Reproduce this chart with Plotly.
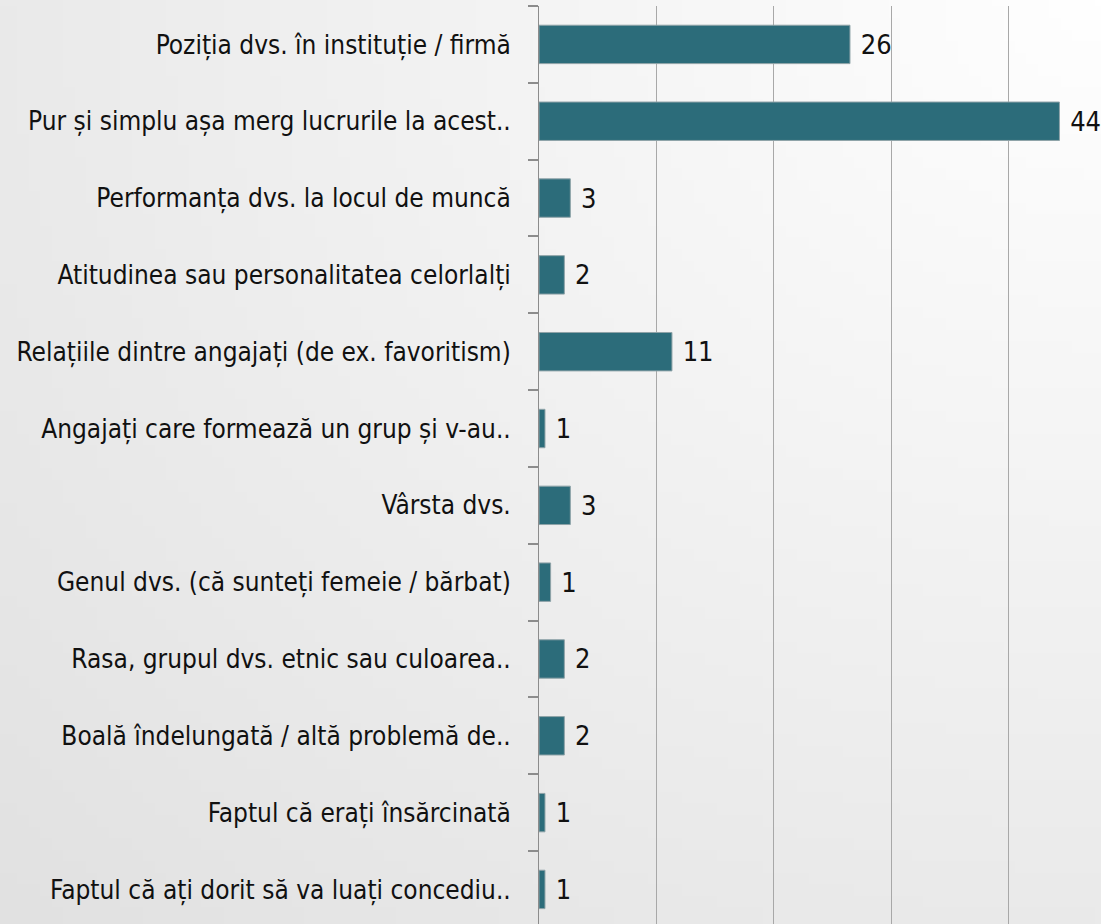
import base64
import struct
import zlib

import plotly.graph_objects as go

# ---------------- data ----------------
categories = [
    "Poziția dvs. în instituție / firmă",
    "Pur și simplu așa merg lucrurile la acest..",
    "Performanța dvs. la locul de muncă",
    "Atitudinea sau personalitatea celorlalți",
    "Relațiile dintre angajați (de ex. favoritism)",
    "Angajați care formează un grup și v-au..",
    "Vârsta dvs.",
    "Genul dvs. (că sunteți femeie / bărbat)",
    "Rasa, grupul dvs. etnic sau culoarea..",
    "Boală îndelungată / altă problemă de..",
    "Faptul că erați însărcinată",
    "Faptul că ați dorit să va luați concediu..",
]
values = [26.5, 44.35, 2.67, 2.16, 11.33, 0.51, 2.67, 0.99, 2.16, 2.16, 0.51, 0.51]
value_labels = ["26", "44", "3", "2", "11", "1", "3", "1", "2", "2", "1", "1"]
x_ticks = [0, 10, 20, 30, 40]

# ---------------- background gradient (styling only) ----------------
def gradient_png(w=96, h=80):
    rows = b""
    for j in range(h):
        row = b"\x00"
        for i in range(w):
            dx = 1.0 - i / (w - 1)
            dy = j / (h - 1)
            d = (dx * dx + dy * dy) ** 0.5
            v = int(max(222, min(255, 255 - 21 * d)))
            row += bytes((v, v, v))
        rows += row

    def chunk(tag, data):
        c = struct.pack(">I", len(data)) + tag + data
        return c + struct.pack(">I", zlib.crc32(tag + data) & 0xFFFFFFFF)

    png = b"\x89PNG\r\n\x1a\n"
    png += chunk(b"IHDR", struct.pack(">IIBBBBB", w, h, 8, 2, 0, 0, 0))
    png += chunk(b"IDAT", zlib.compress(rows, 9))
    png += chunk(b"IEND", b"")
    return "data:image/png;base64," + base64.b64encode(png).decode()

W, H = 1101, 924
ML, MR, MT, MB = 539, 0, 6, 0
pw, ph = W - ML - MR, H - MT - MB

FONT = "DejaVu Sans Condensed, Liberation Sans Narrow, Arial Narrow, sans-serif"

fig = go.Figure(
    go.Bar(
        y=categories,
        x=values,
        orientation="h",
        width=0.5,
        marker=dict(color="#2c6c7a", line=dict(color="#8fa3a8", width=1)),
        text=value_labels,
        texttemplate="\u00a0%{text}",
        textposition="outside",
        textfont=dict(family=FONT, size=27, color="#111111"),
        cliponaxis=False,
        constraintext="none",
        hoverinfo="skip",
    )
)

fig.update_layout(
    width=W,
    height=H,
    margin=dict(l=ML, r=MR, t=MT, b=MB, pad=0, autoexpand=False),
    paper_bgcolor="#eeeeee",
    plot_bgcolor="rgba(0,0,0,0)",
    showlegend=False,
    images=[
        dict(
            source=gradient_png(),
            xref="paper",
            yref="paper",
            x=-ML / pw,
            y=1 + MT / ph,
            sizex=W / pw,
            sizey=H / ph,
            sizing="stretch",
            xanchor="left",
            yanchor="top",
            layer="below",
        )
    ],
    xaxis=dict(
        range=[0, (W - ML) / 11.735],
        tickvals=x_ticks,
        showticklabels=False,
        showgrid=True,
        gridcolor="#a8a8a8",
        gridwidth=1,
        zeroline=False,
        showline=False,
        ticks="",
        automargin=False,
    ),
    yaxis=dict(
        categoryorder="array",
        categoryarray=categories,
        range=[11.45, -0.5],
        showline=True,
        linecolor="#8c8c8c",
        linewidth=1,
        ticks="outside",
        tickson="boundaries",
        ticklen=10,
        tickcolor="#8c8c8c",
        tickwidth=2,
        ticklabelstandoff=22,
        tickfont=dict(family=FONT, size=26, color="#111111"),
        showgrid=False,
        automargin=False,
    ),
)

fig.write_html(
    "out.html",
    config={"displayModeBar": False, "staticPlot": True},
    post_script="document.body.style.margin='0';document.body.style.overflow='hidden';",
)
